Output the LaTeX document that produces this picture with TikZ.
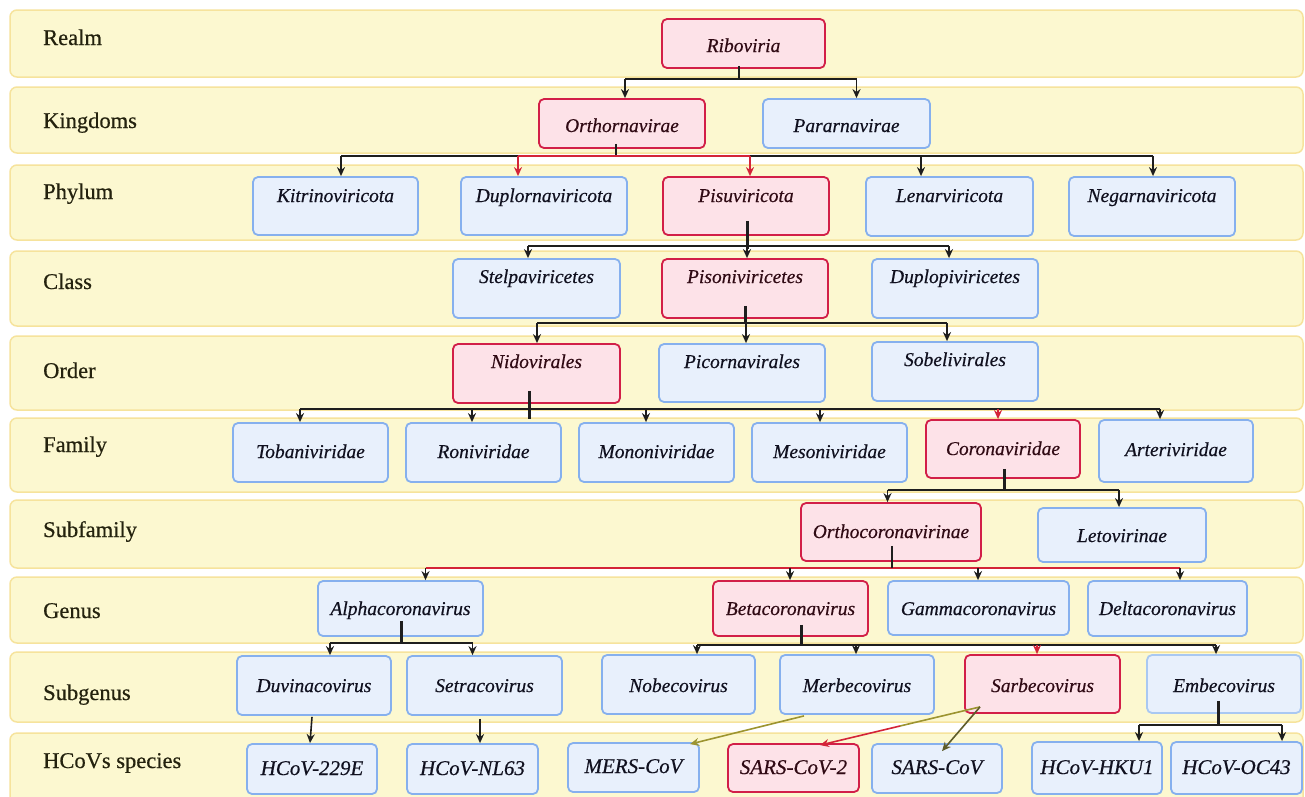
\documentclass[tikz,border=0pt]{standalone}
\usepackage{fontspec}
\setmainfont{Liberation Serif}
\newfontfamily\heavyserif{Liberation Serif}[FakeBold=0.45]
\usetikzlibrary{arrows.meta,calc}
\definecolor{bandfill}{HTML}{FCF8D0}
\definecolor{bandline}{HTML}{F6E39C}
\definecolor{bfill}{HTML}{E8F0FC}
\definecolor{bline}{HTML}{86B0EE}
\definecolor{blinel}{HTML}{A9C8F2}
\definecolor{rfill}{HTML}{FDE2E8}
\definecolor{rline}{HTML}{D21F48}
\definecolor{dk}{HTML}{1E1E1E}
\definecolor{rd}{HTML}{D42438}
\definecolor{ol}{HTML}{9C9430}
\definecolor{olk}{HTML}{5E5C2A}
\definecolor{btext}{HTML}{10101F}
\definecolor{rtext}{HTML}{300A14}
\definecolor{ltext}{HTML}{24220E}
% box: name, x1, y1, x2, y2, style, text, baseline-from-top
\newcommand{\bx}[8]{%
  \pgfmathsetmacro{\mybw}{#4-#2}%
  \pgfmathsetmacro{\mybd}{#5-#3-#8}%
  \pgfmathsetmacro{\mybcx}{(#2+#4)/2}%
  \pgfmathsetmacro{\mybcy}{(#3+#5)/2}%
  \node[#6, minimum width=\mybw pt, text height=#8pt, text depth=\mybd pt] (#1) at (\mybcx,\mybcy) {#7};}
\begin{document}
\begin{tikzpicture}[x=1pt,y=-1pt,
  band/.style={fill=bandfill, draw=bandline, line width=1.5pt, rounded corners=7pt},
  lab/.style={anchor=base west, font=\heavyserif\fontsize{22.5}{27}\selectfont, text=ltext, inner sep=0pt},
  nb/.style={draw=bline, fill=bfill, line width=1.8pt, rounded corners=5pt, inner sep=0pt,
    font=\heavyserif\fontsize{19.5}{23}\selectfont\itshape, text=btext},
  nr/.style={nb, draw=rline, fill=rfill, text=rtext},
  sp/.style={font=\heavyserif\fontsize{21}{25}\selectfont\itshape},
  conn/.style={draw=dk, line width=1.6pt},
  rconn/.style={draw=rd, line width=1.8pt},
  arr/.style={conn, -{Stealth[length=9pt,width=8pt]}},
  rarr/.style={rconn, -{Stealth[length=9pt,width=8pt]}},
  stubl/.style={draw=dk, line width=3pt},
  stubt/.style={draw=dk, line width=2pt}]
\clip (0,0) rectangle (1305,796);
\fill[white] (0,0) rectangle (1305,796);
% bands
\draw[band] (10,10) rectangle (1303,77);
\draw[band] (10,87) rectangle (1303,153);
\draw[band] (10,165) rectangle (1303,240);
\draw[band] (10,251) rectangle (1303,326);
\draw[band] (10,336) rectangle (1303,410);
\draw[band] (10,418) rectangle (1303,492);
\draw[band] (10,500) rectangle (1303,568);
\draw[band] (10,577) rectangle (1303,643);
\draw[band] (10,652) rectangle (1303,722);
\draw[band] (10,733) rectangle (1303,806);
% row labels
\node[lab] (lrealm) at (43,45) {Realm};
\node[lab] (lking) at (43,128) {Kingdoms};
\node[lab] (lphyl) at (43,199) {Phylum};
\node[lab] (lclass) at (43,289) {Class};
\node[lab] (lorder) at (43,378) {Order};
\node[lab] (lfam) at (43,452) {Family};
\node[lab] (lsubf) at (43,537) {Subfamily};
\node[lab] (lgen) at (43,618) {Genus};
\node[lab] (lsubg) at (43,700) {Subgenus};
\node[lab] (lspec) at (43,768) {HCoVs species};
% nodes
\bx{rib}{662}{19}{825}{68}{nr}{Riboviria}{33}
\bx{orth}{539}{99}{705}{148}{nr}{Orthornavirae}{33}
\bx{para}{763}{99}{930}{148}{nb}{Pararnavirae}{33}
\bx{kit}{253}{177}{418}{235}{nb}{Kitrinoviricota}{25}
\bx{dup}{461}{177}{627}{235}{nb}{Duplornaviricota}{25}
\bx{pisu}{663}{177}{829}{235}{nr}{Pisuviricota}{25}
\bx{len}{866}{177}{1033}{236}{nb}{Lenarviricota}{25}
\bx{neg}{1069}{177}{1235}{236}{nb}{Negarnaviricota}{25}
\bx{stel}{453}{259}{620}{318}{nb}{Stelpaviricetes}{24}
\bx{pison}{662}{259}{828}{318}{nr}{Pisoniviricetes}{24}
\bx{dupl}{872}{259}{1038}{318}{nb}{Duplopiviricetes}{24}
\bx{nido}{453}{344}{620}{403}{nr}{Nidovirales}{24}
\bx{pico}{659}{344}{825}{402}{nb}{Picornavirales}{24}
\bx{sobe}{872}{342}{1038}{401}{nb}{Sobelivirales}{24}
\bx{toba}{233}{423}{388}{482}{nb}{Tobaniviridae}{35}
\bx{roni}{406}{423}{561}{482}{nb}{Roniviridae}{35}
\bx{mono}{579}{423}{734}{482}{nb}{Mononiviridae}{35}
\bx{meso}{752}{423}{907}{482}{nb}{Mesoniviridae}{35}
\bx{coro}{926}{420}{1080}{478}{nr}{Coronaviridae}{35}
\bx{arte}{1099}{420}{1253}{482}{nb}{Arteriviridae}{36}
\bx{orco}{801}{503}{981}{561}{nr}{Orthocoronavirinae}{35}
\bx{leto}{1038}{508}{1206}{562}{nb}{Letovirinae}{34}
\bx{alph}{318}{581}{483}{636}{nb}{Alphacoronavirus}{34}
\bx{beta}{713}{581}{868}{636}{nr}{Betacoronavirus}{34}
\bx{gamm}{888}{581}{1069}{635}{nb}{Gammacoronavirus}{34}
\bx{delt}{1088}{581}{1247}{636}{nb}{Deltacoronavirus}{34}
\bx{duvi}{237}{656}{391}{715}{nb}{Duvinacovirus}{36}
\bx{setr}{407}{656}{562}{715}{nb}{Setracovirus}{36}
\bx{nobe}{602}{655}{755}{714}{nb}{Nobecovirus}{37}
\bx{merb}{780}{655}{934}{714}{nb}{Merbecovirus}{37}
\bx{sarb}{965}{655}{1120}{713}{nr}{Sarbecovirus}{37}
\bx{embe}{1147}{655}{1301}{713}{nb,draw=blinel}{Embecovirus}{37}
\bx{e229}{247}{744}{377}{794}{nb,sp}{HCoV-229E}{31}
\bx{nl63}{407}{744}{538}{794}{nb,sp}{HCoV-NL63}{31}
\bx{mers}{568}{743}{699}{792}{nb,sp}{MERS-CoV}{30}
\bx{sc2}{728}{744}{859}{792}{nr,sp}{SARS-CoV-2}{30}
\bx{sc1}{872}{744}{1002}{793}{nb,sp}{SARS-CoV}{30}
\bx{hku}{1032}{742}{1162}{794}{nb,sp}{HCoV-HKU1}{32}
\bx{oc43}{1171}{742}{1302}{794}{nb,sp}{HCoV-OC43}{32}
% ---- Riboviria -> kingdoms
\coordinate (b1) at ([yshift=-10pt]rib.south);
\coordinate (s1) at ([xshift=-5pt]rib.south);
\coordinate (torth) at ([xshift=3pt]orth.north);
\coordinate (tpara) at ([xshift=10pt]para.north);
\draw[stubt] ([yshift=3pt]s1) -- (s1 |- b1);
\draw[conn] (torth |- b1) -- (tpara |- b1);
\draw[arr] (torth |- b1) -- (torth);
\draw[arr] (tpara |- b1) -- (tpara);
% ---- Orthornavirae -> phyla
\coordinate (b2) at ([yshift=-7pt]orth.south);
\coordinate (s2) at ([xshift=-6pt]orth.south);
\coordinate (tkit) at ([xshift=5.5pt]kit.north);
\coordinate (tdup) at ([xshift=-26pt]dup.north);
\coordinate (tpisu) at ([xshift=4pt]pisu.north);
\coordinate (tlen) at ([xshift=-28.5pt]len.north);
\coordinate (tneg) at ([xshift=1pt]neg.north);
\draw[stubt] ([yshift=5pt]s2) -- (s2 |- b2);
\draw[conn] (tkit |- b2) -- (tneg |- b2);
\draw[rconn] (tdup |- b2) -- (tpisu |- b2);
\draw[arr] (tkit |- b2) -- (tkit);
\draw[rarr] (tdup |- b2) -- (tdup);
\draw[rarr] (tpisu |- b2) -- (tpisu);
\draw[arr] (tlen |- b2) -- (tlen);
\draw[arr] (tneg |- b2) -- (tneg);
% ---- Pisuviricota -> classes
\coordinate (b3) at ([yshift=-10pt]pisu.south);
\coordinate (s3) at ([xshift=1pt]pisu.south);
\coordinate (tstel) at ([xshift=-8.5pt]stel.north);
\coordinate (tpison) at ([xshift=2pt]pison.north);
\coordinate (tdupl) at ([xshift=-6pt]dupl.north);
\draw[conn] (tstel |- b3) -- (tdupl |- b3);
\draw[stubl] ([yshift=15pt]s3) -- ([yshift=-3pt]s3 |- b3);
\draw[arr] (tstel |- b3) -- (tstel);
\draw[arr] (tpison |- b3) -- (tpison);
\draw[arr] (tdupl |- b3) -- (tdupl);
% ---- Pisoniviricetes -> orders
\coordinate (b4) at ([yshift=-4pt]pison.south);
\coordinate (s4) at (pison.south);
\coordinate (tnido) at ([xshift=0.5pt]nido.north);
\coordinate (tpico) at ([xshift=4pt]pico.north);
\coordinate (tsobe) at ([xshift=-8pt]sobe.north);
\draw[conn] (tnido |- b4) -- (tsobe |- b4);
\draw[stubl] ([yshift=13pt]s4) -- (s4 |- b4);
\draw[arr] (tnido |- b4) -- (tnido);
\draw[arr] (tpico |- b4) -- (tpico);
\draw[arr] (tsobe |- b4) -- (tsobe);
% ---- Nidovirales -> families
\coordinate (b5) at ([yshift=-5pt]nido.south);
\coordinate (s5) at ([xshift=-7.5pt]nido.south);
\coordinate (ttoba) at ([xshift=-10.5pt]toba.north);
\coordinate (troni) at ([xshift=-11.5pt]roni.north);
\coordinate (tmono) at ([xshift=-10.5pt]mono.north);
\coordinate (tmeso) at ([xshift=-9.5pt]meso.north);
\coordinate (tcoro) at ([xshift=-5pt]coro.north);
\coordinate (tarte) at ([xshift=-16pt]arte.north);
\draw[conn] (ttoba |- b5) -- (tarte |- b5);
\draw[stubl] ([yshift=13pt]s5) -- ([yshift=-10pt]s5 |- b5);
\draw[arr] (ttoba |- b5) -- (ttoba);
\draw[arr] (troni |- b5) -- (troni);
\draw[arr] (tmono |- b5) -- (tmono);
\draw[arr] (tmeso |- b5) -- (tmeso);
\draw[rarr] (tcoro |- b5) -- (tcoro);
\draw[arr] (tarte |- b5) -- (tarte);
% ---- Coronaviridae -> subfamilies
\coordinate (b6) at ([yshift=-11pt]coro.south);
\coordinate (s6) at ([xshift=1pt]coro.south);
\coordinate (torco) at ([xshift=-3.5pt]orco.north);
\coordinate (tleto) at ([xshift=-3pt]leto.north);
\draw[conn] (torco |- b6) -- (tleto |- b6);
\draw[stubl] ([yshift=10pt]s6) -- (s6 |- b6);
\draw[arr] (torco |- b6) -- (torco);
\draw[arr] (tleto |- b6) -- (tleto);
% ---- Orthocoronavirinae -> genera
\coordinate (b7) at ([yshift=-6pt]orco.south);
\coordinate (s7) at ([xshift=0.5pt]orco.south);
\coordinate (talph) at ([xshift=25pt]alph.north);
\coordinate (tbeta) at ([xshift=-0.5pt]beta.north);
\coordinate (tgamm) at ([xshift=-0.5pt]gamm.north);
\coordinate (tdelt) at ([xshift=12.5pt]delt.north);
\draw[rconn] (talph |- b7) -- (tdelt |- b7);
\draw[stubt] ([yshift=16pt]s7) -- (s7 |- b7);
\draw[arr] (talph |- b7) -- (talph);
\draw[arr] (tbeta |- b7) -- (tbeta);
\draw[arr] (tgamm |- b7) -- (tgamm);
\draw[arr] (tdelt |- b7) -- (tdelt);
% ---- Alphacoronavirus -> subgenera
\coordinate (b8) at ([yshift=-6pt]alph.south);
\coordinate (s8) at ([xshift=1pt]alph.south);
\coordinate (tduvi) at ([xshift=16pt]duvi.north);
\coordinate (tsetr) at ([xshift=-12pt]setr.north);
\draw[conn] (tduvi |- b8) -- (tsetr |- b8);
\draw[stubl] ([yshift=16pt]s8) -- (s8 |- b8);
\draw[arr] (tduvi |- b8) -- (tduvi);
\draw[arr] (tsetr |- b8) -- (tsetr);
% ---- Betacoronavirus -> subgenera
\coordinate (b9) at ([yshift=-8pt]beta.south);
\coordinate (s9) at ([xshift=10.5pt]beta.south);
\coordinate (tnobe) at ([xshift=18.5pt]nobe.north);
\coordinate (tmerb) at ([xshift=-1pt]merb.north);
\coordinate (tsarb) at ([xshift=-5.5pt]sarb.north);
\coordinate (tembe) at ([xshift=-8pt]embe.north);
\draw[conn] (tnobe |- b9) -- (tembe |- b9);
\draw[stubl] ([yshift=12pt]s9) -- (s9 |- b9);
\draw[arr] (tnobe |- b9) -- (tnobe);
\draw[arr] (tmerb |- b9) -- (tmerb);
\draw[rarr] (tsarb |- b9) -- (tsarb);
\draw[arr] (tembe |- b9) -- (tembe);
% ---- subgenera -> species
\draw[arr] ([xshift=-2pt,yshift=-1pt]duvi.south) -- ([xshift=-2pt]e229.north);
\draw[arr] ([xshift=-4.5pt,yshift=-3pt]setr.south) -- ([xshift=7.5pt]nl63.north);
\draw[conn, draw=ol, -{Stealth[length=9pt,width=8pt]}] ([xshift=-53pt,yshift=-1pt]merb.south) -- ([xshift=56.5pt,yshift=-2pt]mers.north);
\coordinate (ssarb) at ([xshift=-62.5pt,yshift=7pt]sarb.south);
\coordinate (tsc2) at ([xshift=26.5pt,yshift=-2pt]sc2.north);
\draw[draw=ol, line width=1.6pt] (ssarb) -- ($(ssarb)!0.5!(tsc2)$);
\draw[draw=rd, line width=1.6pt, -{Stealth[length=9pt,width=8pt]}] ($(ssarb)!0.5!(tsc2)$) -- (tsc2);
\draw[draw=olk, line width=1.6pt, -{Stealth[length=9pt,width=8pt]}] (ssarb) -- ([xshift=5pt,yshift=-8pt]sc1.north);
% ---- Embecovirus -> species
\coordinate (b10) at ([yshift=-11pt]embe.south);
\coordinate (s10) at ([xshift=-6pt]embe.south);
\coordinate (thku) at ([xshift=42pt]hku.north);
\coordinate (toc) at ([xshift=45.5pt]oc43.north);
\draw[conn] (thku |- b10) -- (toc |- b10);
\draw[stubl] ([yshift=13pt]s10) -- (s10 |- b10);
\draw[arr] (thku |- b10) -- (thku);
\draw[arr] (toc |- b10) -- (toc);
\end{tikzpicture}
\end{document}
